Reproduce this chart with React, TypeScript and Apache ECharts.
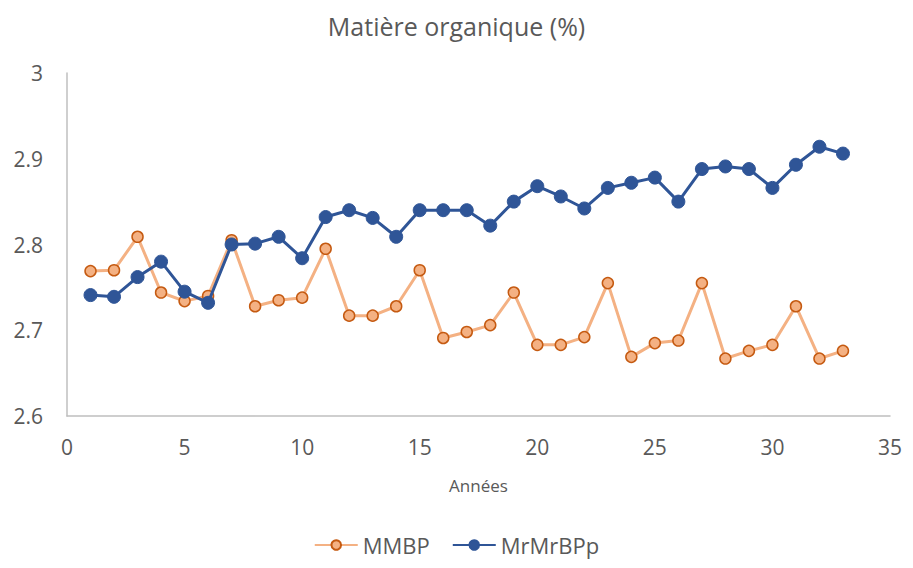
import React, { useEffect, useRef } from "react";
import * as echarts from "echarts";

const years = Array.from({ length: 33 }, (_, i) => i + 1);
const mmbp = [
  2.769, 2.770, 2.809, 2.744, 2.734, 2.740, 2.805, 2.728, 2.735, 2.738,
  2.795, 2.717, 2.717, 2.728, 2.770, 2.691, 2.698, 2.706, 2.744, 2.683,
  2.683, 2.692, 2.755, 2.669, 2.685, 2.688, 2.755, 2.667, 2.676, 2.683,
  2.728, 2.667, 2.676,
];
const mrmrbpp = [
  2.741, 2.739, 2.762, 2.780, 2.745, 2.732, 2.800, 2.801, 2.809, 2.784,
  2.832, 2.840, 2.831, 2.809, 2.840, 2.840, 2.840, 2.822, 2.850, 2.868,
  2.856, 2.842, 2.866, 2.872, 2.878, 2.850, 2.888, 2.891, 2.888, 2.866,
  2.893, 2.914, 2.906,
];
const yTicks = [2.6, 2.7, 2.8, 2.9, 3];

const FONT = "'Open Sans', 'Noto Sans', sans-serif";
const GREY = "#595959";

export default function App() {
  const ref = useRef<HTMLDivElement>(null);
  useEffect(() => {
    document.body.style.margin = "0";
    if (!ref.current) return;
    const chart = echarts.init(ref.current, undefined, { renderer: "svg" });
    chart.setOption({
      animation: false,
      backgroundColor: "#ffffff",
      textStyle: { fontFamily: FONT },
      title: {
        text: "Matière organique (%)",
        left: "center",
        top: 8,
        textStyle: { fontFamily: FONT, fontSize: 25, fontWeight: "normal", color: GREY },
      },
      legend: {
        bottom: 7,
        left: "center",
        itemWidth: 43,
        itemHeight: 12,
        itemGap: 22,
        textStyle: { fontFamily: FONT, fontSize: 22, color: GREY },
        data: ["MMBP", "MrMrBPp"],
      },
      grid: { left: 67, right: 23, top: 73, bottom: 152, containLabel: false },
      xAxis: {
        type: "value",
        min: 0,
        max: 35,
        interval: 5,
        name: "Années",
        nameLocation: "middle",
        nameGap: 61,
        nameTextStyle: { fontFamily: FONT, fontSize: 17, color: GREY },
        axisLine: { show: true, lineStyle: { color: "#bfbfbf", width: 1.5 } },
        axisTick: { show: false },
        splitLine: { show: false },
        axisLabel: { color: GREY, fontSize: 21, fontFamily: FONT, margin: 20 },
      },
      yAxis: {
        type: "value",
        min: yTicks[0],
        max: yTicks[yTicks.length - 1],
        interval: 0.1,
        axisLine: { show: true, lineStyle: { color: "#bfbfbf", width: 1.5 } },
        axisTick: { show: false },
        splitLine: { show: false },
        axisLabel: {
          color: GREY,
          fontSize: 21,
          fontFamily: FONT,
          margin: 24,
          formatter: (v: number) => String(Math.round(v * 10) / 10),
        },
      },
      series: [
        {
          name: "MMBP",
          type: "line",
          data: years.map((y, i) => [y, mmbp[i]]),
          symbol: "circle",
          symbolSize: 11,
          lineStyle: { color: "#F4B183", width: 3 },
          itemStyle: { color: "#F4B183", borderColor: "#C55A11", borderWidth: 1.5 },
          z: 2,
        },
        {
          name: "MrMrBPp",
          type: "line",
          data: years.map((y, i) => [y, mrmrbpp[i]]),
          symbol: "circle",
          symbolSize: 13,
          lineStyle: { color: "#2F5597", width: 3 },
          itemStyle: { color: "#2F5597", borderColor: "#2F5597", borderWidth: 1 },
          z: 3,
        },
      ],
    });
    return () => chart.dispose();
  }, []);
  return <div ref={ref} style={{ width: 913, height: 568 }} />;
}
